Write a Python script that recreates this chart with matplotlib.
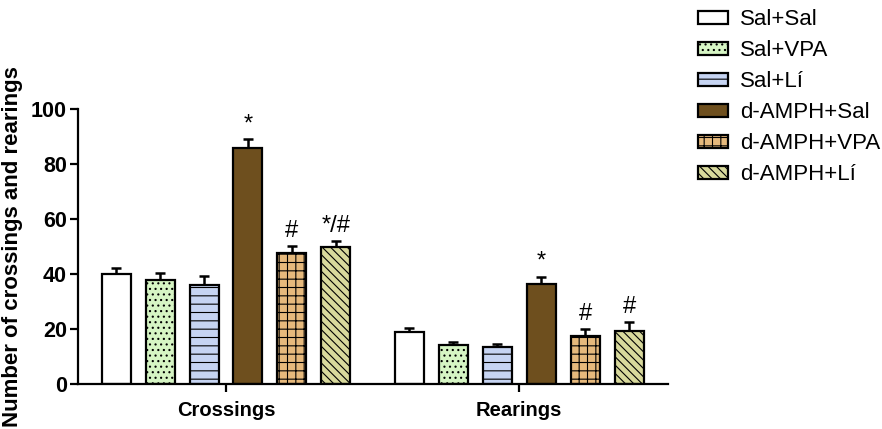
import numpy as np
import matplotlib
matplotlib.use('Agg')
import matplotlib.pyplot as plt

plt.rcParams['font.family'] = ['Liberation Sans', 'DejaVu Sans']
plt.rcParams['hatch.linewidth'] = 0.8

groups = ['Crossings', 'Rearings']
treatments = ['Sal+Sal', 'Sal+VPA', 'Sal+Lí', 'd-AMPH+Sal', 'd-AMPH+VPA', 'd-AMPH+Lí']

# means and SEM per treatment: [Crossings, Rearings]
means = [
    [40.0, 19.0],
    [37.8, 14.2],
    [36.0, 13.5],
    [85.8, 36.4],
    [47.6, 17.5],
    [49.8, 19.3],
]
sems = [
    [2.2, 1.4],
    [2.4, 1.1],
    [3.3, 1.0],
    [3.2, 2.5],
    [2.6, 2.5],
    [2.2, 3.2],
]
marks = [
    ['', ''],
    ['', ''],
    ['', ''],
    ['*', '*'],
    ['#', '#'],
    ['*/#', '#'],
]

colors = ['#ffffff', '#d6f5c4', '#c6d4f2', '#6e4f1e', '#e6b97c', '#d8d99c']
hatches = [None, '...', '--', None, '++', '\\\\\\\\']

fig = plt.figure(figsize=(8.82, 4.29), dpi=100)
ax = fig.add_axes([0.0884, 0.105, 0.669, 0.641])

x = np.arange(len(groups))
step = 0.150
width = 0.099

for i, name in enumerate(treatments):
    pos = x + (i - 2.5) * step
    m = np.array(means[i])
    e = np.array(sems[i])
    ax.bar(pos, m, width, color=colors[i], edgecolor='black', linewidth=1.6,
           hatch=hatches[i], label=name, zorder=2)
    ax.errorbar(pos, m, yerr=[np.zeros_like(e), e], fmt='none', ecolor='black',
                elinewidth=1.8, capsize=3.5, capthick=1.8, zorder=1)
    for j in range(len(groups)):
        if marks[i][j]:
            ax.text(pos[j], m[j] + e[j] + 1.5, marks[i][j], ha='center', va='bottom',
                    fontsize=17, clip_on=False)

ax.set_xlim(-0.505, 1.508)
ax.set_ylim(0, 100)
ax.set_yticks([0, 20, 40, 60, 80, 100])
ax.set_xticks(x)
ax.set_xticklabels(groups, fontsize=14.5, fontweight='bold')
for lab in ax.get_yticklabels():
    lab.set_fontsize(15.5)
    lab.set_fontweight('bold')
ax.tick_params(axis='y', length=6, width=1.6, pad=2)
ax.tick_params(axis='x', length=6, width=1.6, pad=6)
ax.spines['top'].set_visible(False)
ax.spines['right'].set_visible(False)
ax.spines['left'].set_linewidth(1.6)
ax.spines['bottom'].set_linewidth(1.6)
ax.set_ylabel('Number of crossings and rearings', fontsize=16, fontweight='bold', labelpad=6)

ax.legend(loc='upper left', bbox_to_anchor=(0.779, 1.004), bbox_transform=fig.transFigure,
          frameon=False, fontsize=16, handlelength=1.35, handleheight=0.55,
          handletextpad=0.55, labelspacing=0.45, borderaxespad=0.1)

fig.savefig('out.png', dpi=100)
